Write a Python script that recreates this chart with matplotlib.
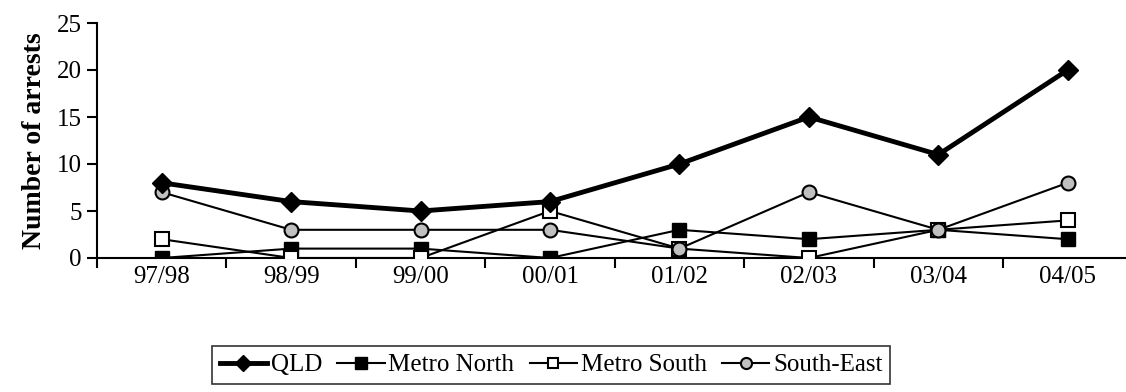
import matplotlib.pyplot as plt
import numpy as np

years = ['97/98', '98/99', '99/00', '00/01', '01/02', '02/03', '03/04', '04/05']
qld = [8, 6, 5, 6, 10, 15, 11, 20]
metro_north = [0, 1, 1, 0, 3, 2, 3, 2]
metro_south = [2, 0, 0, 5, 1, 0, 3, 4]
south_east = [7, 3, 3, 3, 1, 7, 3, 8]

plt.rcParams['font.family'] = ['Liberation Serif', 'DejaVu Serif']

fig = plt.figure(figsize=(11.26, 3.92), dpi=100)
ax = fig.add_axes([97/1126, 134/392, 1029/1126, 235/392])
x = np.arange(len(years))

ax.plot(x, qld, color='black', lw=3.5, marker='D', ms=10, mfc='black', mec='black', label='QLD', zorder=5)
ax.plot(x, metro_north, color='black', lw=1.5, marker='s', ms=10, mfc='black', mec='black', label='Metro North', zorder=3)
ax.plot(x, metro_south, color='black', lw=1.5, marker='s', ms=9.5, mfc='white', mec='black', mew=1.5, label='Metro South', zorder=3)
ax.plot(x, south_east, color='black', lw=1.5, marker='o', ms=10, mfc='#c0c0c0', mec='black', mew=1.5, label='South-East', zorder=4)

ax.set_xlim(-0.5, 7.45)
ax.set_ylim(0, 25)
ax.set_yticks(range(0, 26, 5))
ax.set_xticks(x)
ax.set_xticklabels(years, fontsize=18)
ax.set_xticks(np.arange(-0.5, 7.5, 1), minor=True)
ax.tick_params(axis='x', which='major', length=0, pad=6)
ax.tick_params(axis='x', which='minor', length=7, width=1.5, direction='out')
ax.tick_params(axis='y', labelsize=18, length=7, width=1.5, direction='out', pad=4)
for side in ['top', 'right']:
    ax.spines[side].set_visible(False)
for side in ['left', 'bottom']:
    ax.spines[side].set_linewidth(1.5)
ax.set_ylabel('Number of arrests', fontsize=20, fontweight='bold', labelpad=7)

leg = fig.legend(loc='center', bbox_to_anchor=(551/1126, 1 - 365/392), ncol=4,
                 fontsize=18, frameon=True, fancybox=False, edgecolor='black',
                 handlelength=1.9, handletextpad=0.15, columnspacing=0.6, borderpad=0.3,
                 markerscale=0.8)
leg.get_frame().set_linewidth(1.2)

fig.savefig('out.png', dpi=100)
